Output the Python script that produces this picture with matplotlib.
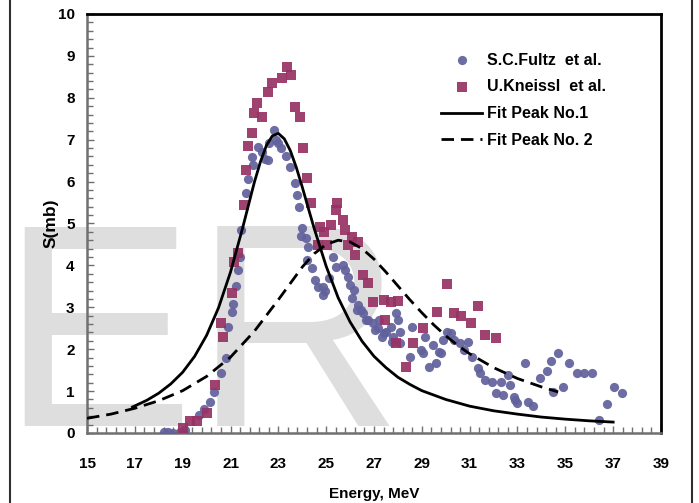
"""
Photoabsorption cross section with two-peak fit
"""
import matplotlib
matplotlib.use("Agg")
import matplotlib.pyplot as plt
from matplotlib.lines import Line2D
from matplotlib.ticker import MultipleLocator

plt.rcParams["font.family"] = ["Liberation Sans", "DejaVu Sans"]
plt.rcParams["font.weight"] = "bold"

# S.C.Fultz et al. (energy MeV, cross section mb)
fultz_e = [18.2, 18.4, 18.6, 18.9, 19.1, 19.7, 19.9, 20.15, 20.3, 20.6, 20.8, 20.9,
           21.05, 21.1, 21.25, 21.3, 21.4, 21.45, 21.65, 21.75, 21.95, 21.9, 22.15,
           22.3, 22.45, 22.55, 22.6, 22.8, 22.9, 23.0, 23.1, 23.3, 23.5, 23.7, 23.8,
           23.85, 24.0, 23.95, 24.15, 24.25, 24.2, 24.4, 24.55, 24.65, 24.85, 24.95,
           24.85, 25.1, 25.3, 25.4, 25.7, 25.8, 25.9, 26.0, 26.15, 26.1, 26.35, 26.45,
           26.3, 26.55, 26.65, 26.75, 26.95, 27.15, 27.2, 27.05, 27.4, 27.5, 27.35,
           27.7, 27.75, 27.8, 27.9, 28.0, 28.1, 28.1, 28.5, 28.6, 28.95, 29.05, 29.15,
           29.45, 29.7, 29.8, 29.6, 29.3, 29.9, 30.05, 30.2, 30.35, 30.6, 30.95, 30.75,
           31.1, 31.35, 31.45, 31.65, 31.95, 32.3, 32.6, 32.7, 32.1, 32.4, 32.85,
           32.9, 33.0, 33.3, 33.45, 33.65, 33.95, 34.25, 34.4, 34.7, 35.15, 35.5,
           35.8, 36.1, 34.9, 34.5, 36.4, 36.75, 37.05, 37.35]
fultz_s = [0.03, 0.02, 0.0, 0.03, 0.07, 0.42, 0.57, 0.73, 0.98, 1.43, 1.79, 2.52,
           2.89, 3.07, 3.50, 3.89, 4.20, 4.84, 5.72, 6.05, 6.40, 6.59, 6.82,
           6.70, 6.55, 6.52, 6.92, 7.23, 7.00, 6.92, 6.80, 6.60, 6.35, 5.97, 5.68,
           5.39, 4.90, 4.70, 4.65, 4.44, 4.13, 3.94, 3.65, 3.49, 3.49, 3.40,
           3.29, 3.70, 4.20, 3.96, 4.00, 3.89, 3.72, 3.53, 3.41, 3.22, 3.05, 2.94,
           2.94, 2.86, 2.70, 2.70, 2.63, 2.51, 2.70, 2.46, 2.39, 2.41, 2.29,
           2.53, 2.17, 2.29, 2.86, 2.70, 2.41, 2.15, 1.81, 2.53, 1.98, 1.91, 2.29,
           2.10, 1.93, 1.91, 1.67, 1.58, 2.22, 2.41, 2.39, 2.22, 2.15, 2.17, 1.98,
           1.81, 1.55, 1.43, 1.26, 1.22, 1.22, 1.38, 1.15, 0.95, 0.91, 0.86,
           0.79, 0.72, 1.67, 0.74, 0.64, 1.31, 1.48, 1.72, 1.91, 1.67, 1.43,
           1.43, 1.43, 1.10, 0.98, 0.31, 0.69, 1.10, 0.95]

# U.Kneissl et al.
kneissl_e = [19.0, 19.3, 19.6, 20.0, 20.35, 20.7, 20.6, 21.05, 21.15, 21.3, 21.55,
             21.65, 21.75, 21.9, 22.0, 22.3, 22.1, 22.55, 22.75, 23.15, 23.35, 23.55,
             23.7, 23.9, 24.05, 24.2, 24.35, 24.75, 24.9, 24.65, 25.05, 25.2, 25.4,
             25.45, 25.7, 25.8, 26.1, 26.35, 25.9, 26.2, 26.55, 26.75, 26.95, 27.4,
             27.7, 28.0, 27.45, 27.9, 28.35, 28.65, 29.05, 29.65, 30.05, 30.35, 30.65,
             31.35, 31.05, 31.65, 32.1]
kneissl_s = [0.13, 0.29, 0.29, 0.48, 1.15, 2.28, 2.63, 3.34, 4.08, 4.30, 5.45,
             6.28, 6.86, 7.16, 7.64, 7.54, 7.88, 8.14, 8.35, 8.48, 8.74, 8.54,
             7.78, 7.54, 6.80, 6.09, 5.49, 4.92, 4.80, 4.49, 4.49, 4.96, 5.32,
             5.49, 5.08, 4.84, 4.68, 4.56, 4.49, 4.25, 3.77, 3.58, 3.13, 3.17,
             3.13, 3.15, 2.70, 2.15, 1.58, 2.15, 2.51, 2.89, 3.56, 2.86, 2.79,
             3.03, 2.63, 2.34, 2.27]

# fitted peak curves
peak1_e = [16.9, 17.5, 18, 18.5, 19, 19.5, 20, 20.5, 21, 21.5, 22, 22.25, 22.5,
           22.75, 23, 23.25, 23.5, 23.75, 24, 24.25, 24.5, 25, 25.5, 26, 26.5, 27,
           27.5, 28, 28.5, 29, 30, 31, 32, 33, 34, 35, 36, 37]
peak1_s = [0.62, 0.78, 0.95, 1.17, 1.45, 1.83, 2.33, 2.99, 3.84, 4.88, 5.99, 6.47,
           6.86, 7.09, 7.15, 7.02, 6.74, 6.34, 5.87, 5.37, 4.88, 3.98, 3.23, 2.65,
           2.19, 1.83, 1.56, 1.33, 1.16, 1.01, 0.80, 0.64, 0.53, 0.45, 0.38, 0.33,
           0.29, 0.26]
peak2_e = [15, 16, 17, 18, 19, 20, 21, 22, 23, 24, 24.5, 25, 25.5, 26, 26.5, 27,
           27.5, 28, 28.5, 29, 29.5, 30, 30.5, 31, 32, 33, 34, 34.7]
peak2_s = [0.35, 0.45, 0.59, 0.77, 1.01, 1.35, 1.81, 2.43, 3.18, 3.96, 4.28, 4.50,
           4.60, 4.56, 4.40, 4.15, 3.84, 3.51, 3.18, 2.87, 2.58, 2.32, 2.09, 1.89,
           1.56, 1.30, 1.10, 0.98]

fig = plt.figure(figsize=(6.99, 5.03), dpi=100)
ax = fig.add_axes([0.1245, 0.1392, 0.8211, 0.8330])

# faint background lettering
ax.text(0.001, 0.153, "ER", transform=fig.transFigure, fontsize=209,
        fontweight="normal", color="#dedede", zorder=0, clip_on=False,
        ha="left", va="baseline")

ax.scatter(fultz_e, fultz_s, s=44, marker="o", color="#61619c", alpha=0.92,
           linewidths=0, zorder=3, label="S.C.Fultz  et al.")
ax.scatter(kneissl_e, kneissl_s, s=52, marker="s", color="#973264", alpha=0.92,
           linewidths=0, zorder=3, label="U.Kneissl  et al.")
ax.plot(peak1_e, peak1_s, color="black", lw=2, zorder=4, label="Fit Peak No.1")
ax.plot(peak2_e, peak2_s, color="black", lw=2, dashes=(4.5, 2.5), zorder=4,
        label="Fit Peak No. 2")

ax.set_xlim(15, 39)
ax.set_ylim(0, 10)
ax.xaxis.set_major_locator(MultipleLocator(2, offset=1))
ax.xaxis.set_minor_locator(MultipleLocator(0.4, offset=0.2))
ax.yaxis.set_major_locator(MultipleLocator(1))
ax.yaxis.set_minor_locator(MultipleLocator(0.2))
ax.tick_params(which="both", direction="in", color="#707070", width=1,
               labelsize=11)
ax.tick_params(which="major", length=5)
ax.tick_params(which="minor", length=4)
ax.tick_params(axis="y", pad=9)
ax.tick_params(axis="x", pad=17)

for side in ("top", "right"):
    ax.spines[side].set_color("black")
    ax.spines[side].set_linewidth(2)
for side in ("left", "bottom"):
    ax.spines[side].set_color("#707070")
    ax.spines[side].set_linewidth(1.8)

ax.set_xlabel("Energy, MeV", fontsize=11, fontweight="bold", labelpad=12)
ax.set_ylabel("S(mb)", fontsize=12.5, fontweight="bold")
ax.yaxis.set_label_coords(-0.049, 0.5)

leg = ax.legend(loc="upper left", bbox_to_anchor=(0.617, 0.908), frameon=False,
                fontsize=11.5, handlelength=2.55, handletextpad=0.3,
                labelspacing=0.74, borderpad=0, borderaxespad=0)

# side rules of the surrounding box
fig.add_artist(Line2D([0.0143, 0.0143], [0, 1], transform=fig.transFigure,
                      color="#303030", lw=1.5))
fig.add_artist(Line2D([0.9905, 0.9905], [0, 1], transform=fig.transFigure,
                      color="#303030", lw=1.5))

fig.savefig("out.png", dpi=100)
